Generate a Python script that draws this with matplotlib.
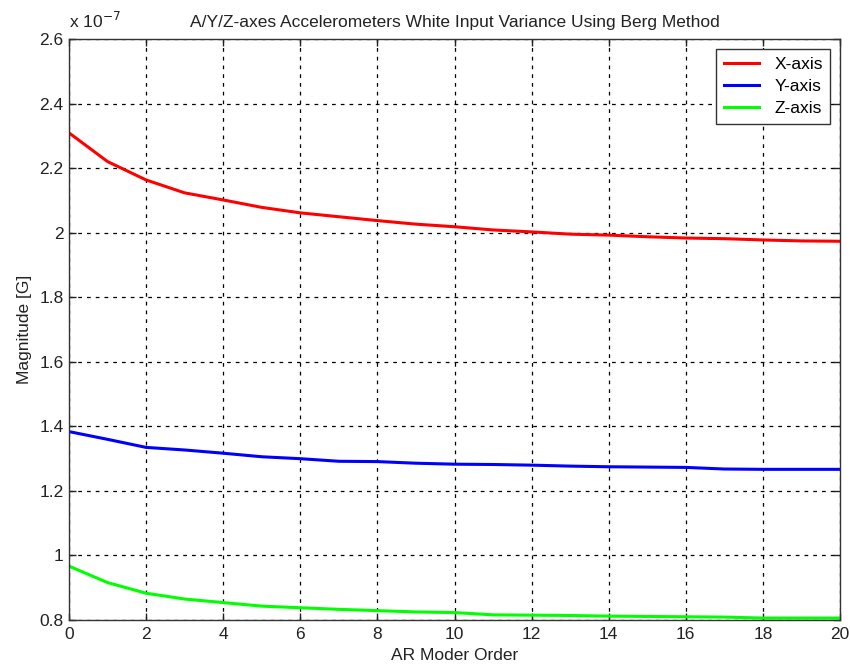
import matplotlib
matplotlib.use("Agg")
import matplotlib.pyplot as plt
import numpy as np

plt.rcParams['font.family'] = ['Liberation Sans', 'DejaVu Sans']

order = list(range(0, 21))
x_axis = [2.310, 2.221, 2.164, 2.124, 2.102, 2.079, 2.062, 2.050, 2.038, 2.027, 2.019,
          2.009, 2.003, 1.996, 1.993, 1.988, 1.984, 1.982, 1.978, 1.975, 1.974]
y_axis = [1.384, 1.360, 1.335, 1.327, 1.317, 1.306, 1.300, 1.292, 1.291, 1.286, 1.283,
          1.282, 1.280, 1.277, 1.275, 1.274, 1.273, 1.268, 1.267, 1.267, 1.267]
z_axis = [0.967, 0.916, 0.883, 0.865, 0.854, 0.843, 0.838, 0.833, 0.829, 0.825, 0.823,
          0.816, 0.815, 0.814, 0.812, 0.811, 0.810, 0.809, 0.806, 0.806, 0.806]
series_labels = ['X-axis', 'Y-axis', 'Z-axis']
series_colors = ['#ff0000', '#0000ff', '#00ff00']
xticks = list(range(0, 21, 2))
yticks = [0.8, 1.0, 1.2, 1.4, 1.6, 1.8, 2.0, 2.2, 2.4, 2.6]
ytick_labels = ['0.8', '1', '1.2', '1.4', '1.6', '1.8', '2', '2.2', '2.4', '2.6']

FS = 12.5
fig = plt.figure(figsize=(8.5, 6.7), dpi=100)
ax = fig.add_axes([69/850, 50/670, (840-69)/850, (620-39.3)/670])

for vals, lab, col in zip([x_axis, y_axis, z_axis], series_labels, series_colors):
    ax.plot(order, vals, color=col, lw=2.2, label=lab)

ax.set_xlim(0, 20)
ax.set_ylim(0.8, 2.6)
ax.set_xticks(xticks)
ax.set_xticklabels([str(t) for t in xticks])
ax.set_yticks(yticks)
ax.set_yticklabels(ytick_labels)
ax.grid(True, color='black', linestyle=(0, (3, 4)), linewidth=0.9)
ax.tick_params(direction='in', length=5, top=True, right=True, labelsize=FS,
               colors='#222222', labelcolor='#222222', width=1)
ax.tick_params(axis='y', pad=4)
ax.tick_params(axis='x', pad=5)
for sp in ax.spines.values():
    sp.set_color('#333333')
    sp.set_linewidth(1)

ax.set_title('A/Y/Z-axes Accelerometers White Input Variance Using Berg Method',
             fontsize=FS, color='#222222', pad=9)
ax.set_xlabel('AR Moder Order', fontsize=FS, color='#222222', labelpad=4)
ax.set_ylabel('Magnitude [G]', fontsize=FS, color='#222222', labelpad=5)
ax.text(0.0, 1.014, r'x 10$^{-7}$', transform=ax.transAxes, fontsize=FS,
        color='#222222', ha='left', va='bottom')

leg = ax.legend(loc='upper right', fontsize=FS, fancybox=False, framealpha=1,
                edgecolor='#333333', borderaxespad=0.55, handlelength=2.0,
                borderpad=0.45, labelspacing=0.4, handletextpad=0.9)
leg.get_frame().set_linewidth(1)

fig.savefig('out.png', dpi=100)
